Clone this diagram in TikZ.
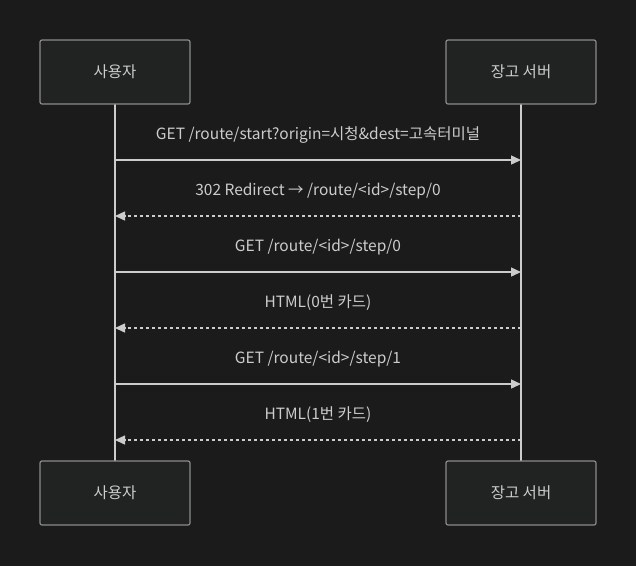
\documentclass[tikz,border=0pt]{standalone}
\usepackage{fontspec}
\setmainfont{Noto Sans CJK KR}
\usetikzlibrary{arrows.meta}
\usepackage{xcolor}
\definecolor{bgdark}{HTML}{1B1B1B}
\definecolor{boxfill}{HTML}{212322}
\definecolor{boxline}{HTML}{8A8A8A}
\definecolor{inkgray}{HTML}{CCCCCC}

\tikzset{
  actor/.style={draw=boxline, fill=boxfill, line width=1.2pt, rounded corners=2pt,
    minimum width=150pt, minimum height=64pt, inner sep=0pt,
    text=inkgray, font=\fontsize{15.5}{18}\selectfont},
  msg/.style={draw=inkgray, line width=1.4pt, -{Triangle[length=10pt,width=9pt]}},
  reply/.style={msg, dash pattern=on 3pt off 3pt},
  msglabel/.style={text=inkgray, font=\fontsize{15.5}{18}\selectfont, inner sep=0pt}
}

\begin{document}
\begin{tikzpicture}[x=1pt,y=-1pt]

% background
\fill[bgdark] (0,0) rectangle (636,566);
\useasboundingbox (0,0) rectangle (636,566);

% lifelines
\draw[inkgray, line width=1.4pt] (115,104) -- (115,461);
\draw[inkgray, line width=1.4pt] (521,104) -- (521,461);

% top boxes
\node[actor] (usertop) at (115,72) {\raisebox{-1.5pt}{사용자}};
\node[actor] (servertop) at (521,72) {\raisebox{-1.5pt}{장고 서버}};

% bottom boxes
\node[actor] (userbot) at (115,493) {\raisebox{-1.5pt}{사용자}};
\node[actor] (serverbot) at (521,493) {\raisebox{-1.5pt}{장고 서버}};

% message ends on the lifelines
\foreach \i/\y in {1/160, 2/216, 3/272, 4/328, 5/384, 6/440} {
  \coordinate (u\i) at (115,\y);
  \coordinate (s\i) at (521,\y);
}

% request 1
\draw[msg] (u1) -- (s1);
\node[msglabel] (m1) at (318,135) {GET /route/start?origin=시청\&dest=고속터미널};

% redirect
\draw[reply] (s2) -- (u2);
\node[msglabel] (m2) at (318,191) {302 Redirect → /route/<id>/step/0};

% request 2
\draw[msg] (u3) -- (s3);
\node[msglabel] (m3) at (318,247) {GET /route/<id>/step/0};

% card 0
\draw[reply] (s4) -- (u4);
\node[msglabel] (m4) at (318,303) {HTML(0번 카드)};

% request 3
\draw[msg] (u5) -- (s5);
\node[msglabel] (m5) at (318,359) {GET /route/<id>/step/1};

% card 1
\draw[reply] (s6) -- (u6);
\node[msglabel] (m6) at (318,415) {HTML(1번 카드)};

\end{tikzpicture}
\end{document}
